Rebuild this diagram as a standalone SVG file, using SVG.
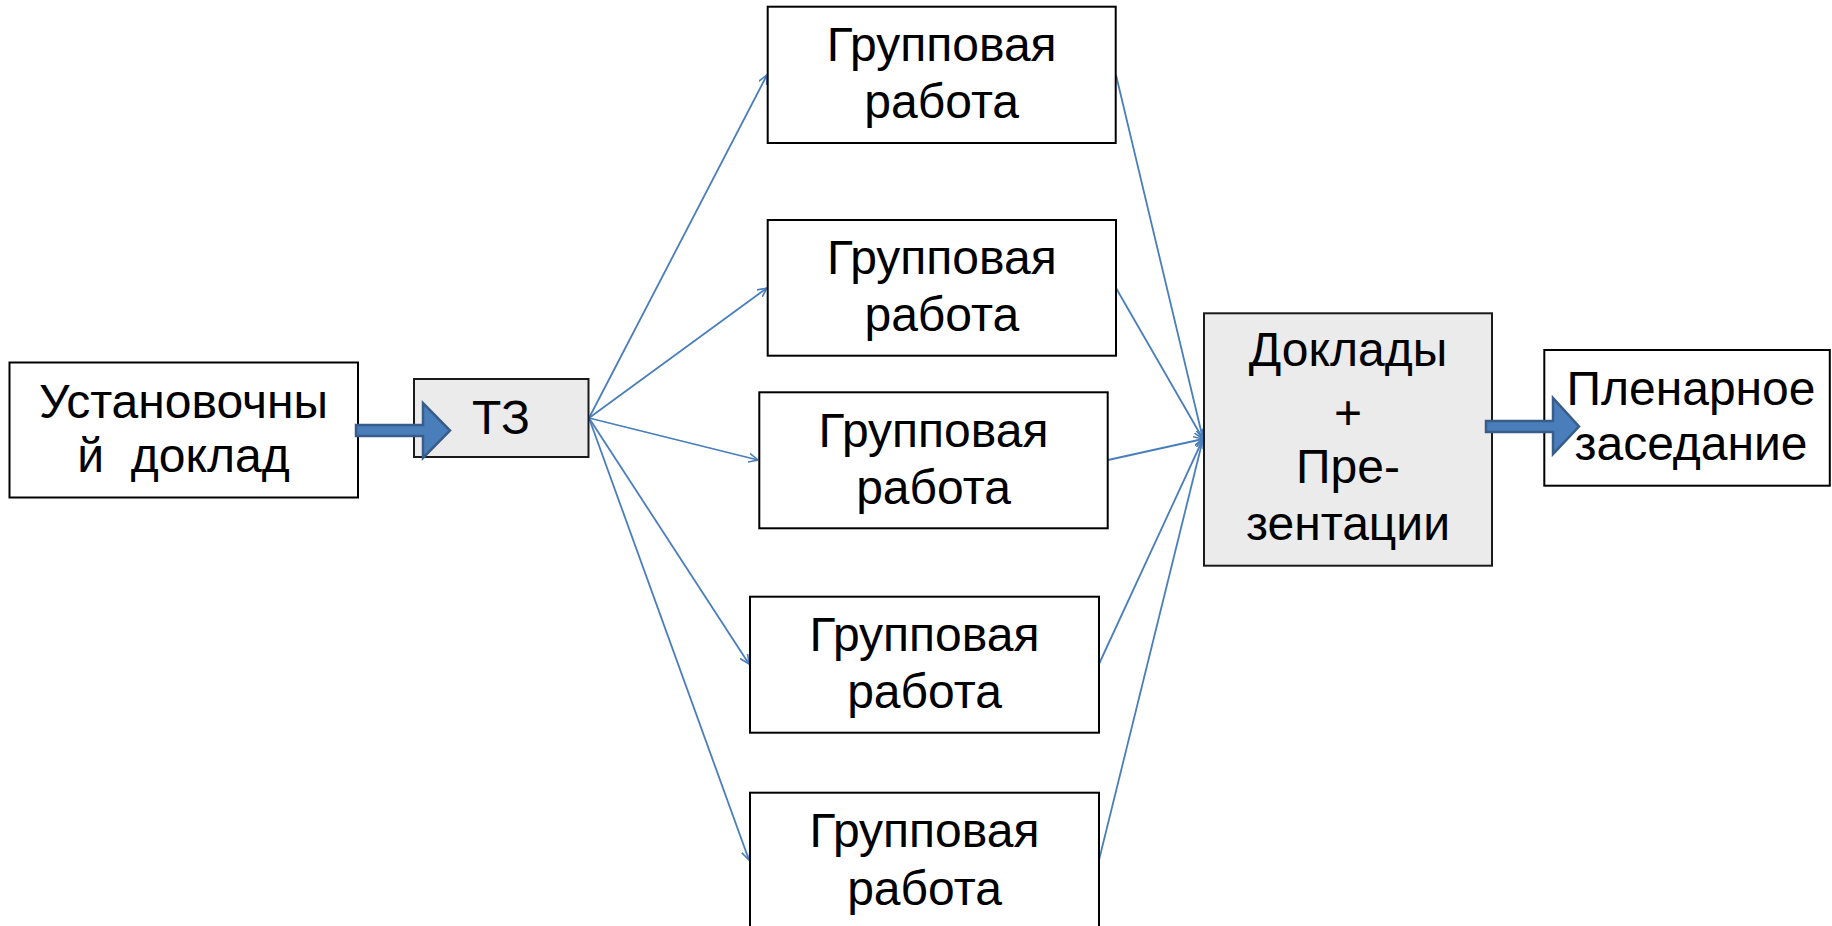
<svg xmlns="http://www.w3.org/2000/svg" width="1832" height="926" viewBox="0 0 1832 926">
  <defs>
    <style>
      .box { fill: #ffffff; stroke: #000000; stroke-width: 2; }
      .gray { fill: #ebebeb; stroke: #1a1a1a; stroke-width: 2; }
      .t { font-family: "Liberation Sans", Arial, sans-serif; font-size: 48px; fill: #000000; text-anchor: middle; }
      .conn { stroke: #4a7ebb; stroke-width: 1.8; fill: none; marker-end: url(#ah); }
      .block { fill: #4a7ebb; stroke: #385d8a; stroke-width: 2.5; stroke-linejoin: miter; }
    </style>
    <marker id="ah" viewBox="0 0 10 10" refX="9.5" refY="5" markerWidth="5.5" markerHeight="5.5" orient="auto" markerUnits="strokeWidth">
      <path d="M0,0.5 L9.5,5 L0,9.5" fill="none" stroke="#4a7ebb" stroke-width="1.6"/>
    </marker>
  </defs>
  <rect width="1832" height="926" fill="#ffffff"/>

  <g id="connectors">
    <line class="conn" x1="589" y1="418" x2="767" y2="75"/>
    <line class="conn" x1="589" y1="418" x2="767" y2="288"/>
    <line class="conn" x1="589" y1="418" x2="758" y2="460"/>
    <line class="conn" x1="589" y1="418" x2="749" y2="664"/>
    <line class="conn" x1="589" y1="418" x2="749" y2="860"/>
    <line class="conn" x1="1116" y1="75" x2="1203" y2="439"/>
    <line class="conn" x1="1116" y1="288" x2="1203" y2="439"/>
    <line class="conn" x1="1108" y1="460" x2="1203" y2="439"/>
    <line class="conn" x1="1099" y1="664" x2="1203" y2="439"/>
    <line class="conn" x1="1099" y1="860" x2="1203" y2="439"/>
  </g>

  <g id="node-ustanovochny">
    <rect class="box" x="9.5" y="362.5" width="348.5" height="135"/>
    <text class="t" x="183.5" y="418">Установочны</text>
    <text class="t" x="183.5" y="472" xml:space="preserve">й  доклад</text>
  </g>

  <g id="node-tz">
    <rect class="gray" x="414" y="379" width="174.5" height="78"/>
    <text class="t" x="501" y="434">ТЗ</text>
  </g>

  <g id="node-group1">
    <rect class="box" x="767.7" y="6.7" width="348" height="136.3"/>
    <text class="t" x="941.7" y="61">Групповая</text>
    <text class="t" x="941.7" y="118">работа</text>
  </g>

  <g id="node-group2">
    <rect class="box" x="767.7" y="220" width="348.3" height="135.7"/>
    <text class="t" x="941.8" y="274">Групповая</text>
    <text class="t" x="941.8" y="331">работа</text>
  </g>

  <g id="node-group3">
    <rect class="box" x="759.3" y="392.3" width="348.4" height="136"/>
    <text class="t" x="933.5" y="446.5">Групповая</text>
    <text class="t" x="933.5" y="503.5">работа</text>
  </g>

  <g id="node-group4">
    <rect class="box" x="750" y="596.7" width="349" height="136"/>
    <text class="t" x="924.5" y="651">Групповая</text>
    <text class="t" x="924.5" y="708">работа</text>
  </g>

  <g id="node-group5">
    <rect class="box" x="750" y="792.7" width="349" height="140"/>
    <text class="t" x="924.5" y="847">Групповая</text>
    <text class="t" x="924.5" y="905">работа</text>
  </g>

  <g id="node-doklady">
    <rect class="gray" x="1204" y="313.3" width="288" height="252.4"/>
    <text class="t" x="1348" y="366">Доклады</text>
    <text class="t" x="1348" y="429">+</text>
    <text class="t" x="1348" y="483">Пре-</text>
    <text class="t" x="1348" y="540">зентации</text>
  </g>

  <g id="node-plenarnoe">
    <rect class="box" x="1544.3" y="350" width="285.5" height="135.7"/>
    <text class="t" x="1691" y="405">Пленарное</text>
    <text class="t" x="1691" y="460">заседание</text>
  </g>

  <g id="block-arrows">
    <polygon class="block" points="356,425 423,425 423,403 450,430.5 423,458 423,436 356,436"/>
    <polygon class="block" points="1486,421 1553,421 1553,398 1579,426.5 1553,454 1553,432 1486,432"/>
  </g>
</svg>
